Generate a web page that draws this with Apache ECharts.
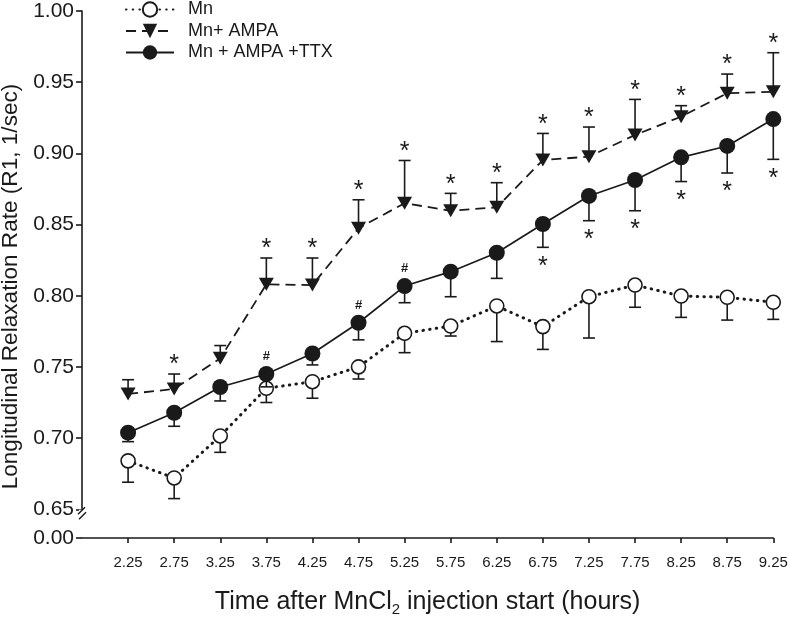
<!DOCTYPE html>
<html><head><meta charset="utf-8">
<script src="https://cdn.jsdelivr.net/npm/echarts@6/dist/echarts.min.js"></script>
<style>html,body{margin:0;padding:0;background:#fff}#c{width:788px;height:621px}</style>
</head><body><div id="c"></div>
<script>
// ---- data ----
const xTickLabels = ['2.25','2.75','3.25','3.75','4.25','4.75','5.25','5.75','6.25','6.75','7.25','7.75','8.25','8.75','9.25'];
const times = xTickLabels.map(Number);
const seriesNames = ['Mn', 'Mn+ AMPA', 'Mn + AMPA +TTX'];
const mnMean  = [0.684, 0.672, 0.7015, 0.735, 0.7396, 0.750, 0.7736, 0.7787, 0.7928, 0.7783, 0.7993, 0.8075, 0.7998, 0.7989, 0.7954];
const mnErr   = [0.015, 0.0145, 0.0115, 0.010, 0.0116, 0.0085, 0.0136, 0.007, 0.025, 0.016, 0.029, 0.0156, 0.015, 0.016, 0.012];
const ampaMean = [0.731, 0.7345, 0.756, 0.808, 0.8075, 0.8474, 0.865, 0.8597, 0.8621, 0.8953, 0.8977, 0.9129, 0.9258, 0.9422, 0.9433];
const ampaErr  = [0.010, 0.0105, 0.009, 0.0185, 0.019, 0.020, 0.030, 0.0122, 0.0173, 0.0187, 0.0208, 0.025, 0.0077, 0.0135, 0.0274];
const ampaSig  = ['', '*', '', '*', '*', '*', '*', '*', '*', '*', '*', '*', '*', '*', '*'];
const ttxMean = [0.7038, 0.7178, 0.7359, 0.745, 0.7594, 0.781, 0.8068, 0.8169, 0.8302, 0.8504, 0.8701, 0.8813, 0.8972, 0.9052, 0.9241];
const ttxErr  = [0.0063, 0.0095, 0.0098, 0.009, 0.008, 0.012, 0.0117, 0.0176, 0.018, 0.0164, 0.0174, 0.0216, 0.017, 0.019, 0.0283];
const ttxSig  = ['', '', '', '#', '', '#', '#', '', '', '*', '*', '*', '*', '*', '*'];
const yMin = 0, yMax = 1.0, yStep = 0.05, breakStart = 0, breakEnd = 0.65;
const xMin = 1.75, xMax = 9.25;

// ---- chart ----
const INK = '#1a1a1a';
const FONT = '"Liberation Sans", Arial, Helvetica, sans-serif';
const chart = echarts.init(document.getElementById('c'), null, {renderer: 'canvas'});

function pts(mean) { return times.map((t, i) => [t, mean[i]]); }
function errData(mean, err, sig) { return times.map((t, i) => [t, mean[i], err[i], sig[i]]); }

function errRenderer(dir) {
  return function (params, api) {
    const x = api.value(0), y = api.value(1), e = api.value(2);
    const sig = api.value(3);
    const p0 = api.coord([x, y]);
    const p1 = api.coord([x, y + dir * e]);
    const st = {stroke: INK, lineWidth: 1.6};
    const children = [
      {type: 'line', shape: {x1: p0[0], y1: p0[1], x2: p1[0], y2: p1[1]}, style: st},
      {type: 'line', shape: {x1: p1[0] - 6, y1: p1[1], x2: p1[0] + 6, y2: p1[1]}, style: st}
    ];
    if (sig === '*') {
      const cy = dir > 0 ? p1[1] - 14 : p1[1] + 14;
      children.push({type: 'text', x: p1[0], y: cy + 5.5,
        style: {text: '*', font: '25px ' + FONT, fill: INK, align: 'center', verticalAlign: 'middle'}});
    } else if (sig === '#') {
      children.push({type: 'text', x: p0[0], y: p0[1] - 17.5,
        style: {text: '#', font: 'bold 13px ' + FONT, fill: INK, align: 'center', verticalAlign: 'middle'}});
    }
    return {type: 'group', children};
  };
}

const option = {
  animation: false,
  backgroundColor: '#fff',
  textStyle: {fontFamily: FONT, color: INK},
  grid: {left: 82, right: 14.7, top: 11, bottom: 83, containLabel: false, outerBoundsMode: 'none'},
  legend: {
    data: seriesNames, orient: 'vertical', left: 125, top: 0.5, padding: 0,
    itemWidth: 48, itemHeight: 18, itemGap: 3.5,
    textStyle: {fontSize: 18, color: INK, fontFamily: FONT, padding: [0, 0, 0, 9]}
  },
  xAxis: {
    type: 'value', min: xMin, max: xMax,
    name: '{a|Time after MnCl}{s|2}{a| injection start (hours)}',
    nameLocation: 'middle', nameGap: 52,
    nameTextStyle: {color: INK, rich: {
      a: {fontSize: 25, lineHeight: 27, verticalAlign: 'top', color: INK, fontFamily: FONT},
      s: {fontSize: 15, lineHeight: 15, verticalAlign: 'bottom', color: INK, fontFamily: FONT}
    }},
    axisLine: {show: true, lineStyle: {color: INK, width: 1.6}},
    axisTick: {show: true, length: 5, customValues: times, lineStyle: {color: INK, width: 1.6}},
    axisLabel: {customValues: times, margin: 17, fontSize: 15, color: INK, fontFamily: FONT,
      formatter: v => xTickLabels[times.indexOf(v)] ?? ''},
    splitLine: {show: false}
  },
  yAxis: {
    type: 'value', min: yMin, max: yMax, interval: yStep,
    breaks: [{start: breakStart, end: breakEnd, gap: '5.45%'}],
    breakArea: {show: false},
    name: 'Longitudinal Relaxation Rate (R1, 1/sec)',
    nameLocation: 'middle', nameGap: 59,
    nameTextStyle: {fontSize: 22.6, color: INK, fontFamily: FONT, padding: [0, 24, 0, 0]},
    axisLine: {show: true, lineStyle: {color: INK, width: 1.6}},
    axisTick: {show: true, length: 6, lineStyle: {color: INK, width: 1.6}},
    axisLabel: {margin: 8, fontSize: 21, color: INK, fontFamily: FONT, formatter: v => v.toFixed(2)},
    splitLine: {show: false}
  },
  series: [
    {type: 'custom', name: 'mnErr', renderItem: errRenderer(-1), data: errData(mnMean, mnErr, mnMean.map(() => '')),
      encode: {x: 0, y: 1}, z: 2, silent: true},
    {type: 'line', name: seriesNames[0], data: pts(mnMean), z: 3,
      symbol: 'circle', symbolSize: 14, showAllSymbol: true,
      itemStyle: {color: '#fff', borderColor: INK, borderWidth: 1.6},
      lineStyle: {color: INK, width: 3, type: [0.5, 6.2], cap: 'round'}},
    {type: 'custom', name: 'ampaErr', renderItem: errRenderer(1), data: errData(ampaMean, ampaErr, ampaSig),
      encode: {x: 0, y: 1}, z: 4, silent: true},
    {type: 'line', name: seriesNames[1], data: pts(ampaMean), z: 5,
      symbol: 'triangle', symbolRotate: 180, symbolSize: [15, 13], showAllSymbol: true,
      itemStyle: {color: INK},
      lineStyle: {color: INK, width: 1.8, type: [10, 6]}},
    {type: 'custom', name: 'ttxErr', renderItem: errRenderer(-1), data: errData(ttxMean, ttxErr, ttxSig),
      encode: {x: 0, y: 1}, z: 6, silent: true},
    {type: 'line', name: seriesNames[2], data: pts(ttxMean), z: 7,
      symbol: 'circle', symbolSize: 16, showAllSymbol: true,
      itemStyle: {color: INK},
      lineStyle: {color: INK, width: 1.7}}
  ]
};
chart.setOption(option);

// axis-break marks "//" on the y axis line
const ax = chart.convertToPixel({xAxisIndex: 0}, xMin);
const yb = chart.convertToPixel({yAxisIndex: 0}, breakEnd) + 4;
chart.setOption({graphic: [
  {type: 'rect', shape: {x: ax - 3, y: yb - 3.5, width: 6, height: 7}, style: {fill: '#fff'}, z: 100},
  {type: 'line', shape: {x1: ax - 4, y1: yb + 1, x2: ax + 3, y2: yb - 6}, style: {stroke: INK, lineWidth: 1.4}, z: 101},
  {type: 'line', shape: {x1: ax - 3, y1: yb + 6, x2: ax + 4, y2: yb - 1}, style: {stroke: INK, lineWidth: 1.4}, z: 101}
]});
</script></body></html>
